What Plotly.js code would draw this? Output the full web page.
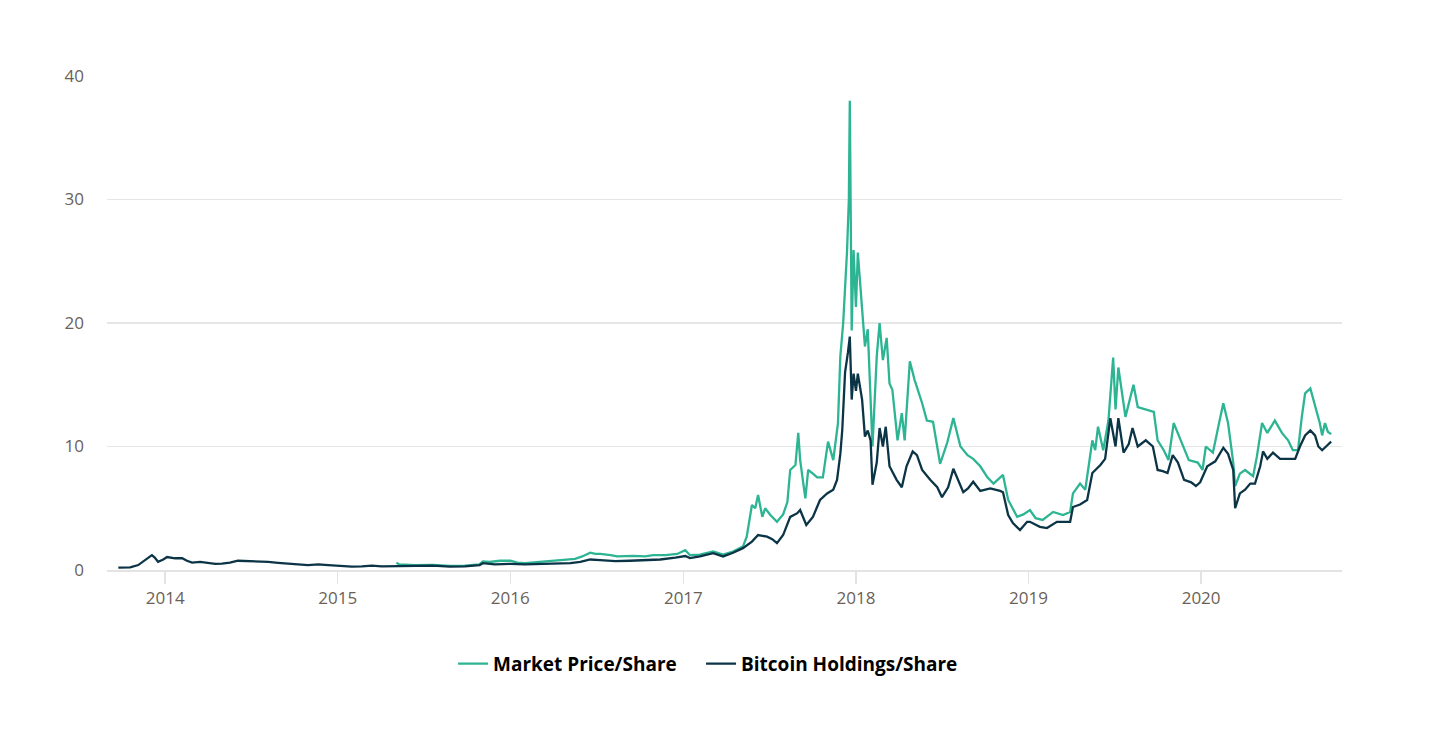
<!DOCTYPE html>
<html>
<head>
<meta charset="utf-8">
<script src="https://cdn.plot.ly/plotly-3.0.1.min.js"></script>
<style>html,body{margin:0;padding:0;background:#fff;}#chart{width:1431px;height:742px;}</style>
</head>
<body>
<div id="chart"></div>
<script>
// Bitcoin Holdings/Share
const holdDates = [
"2013-09-24","2013-10-19","2013-11-05","2013-11-20","2013-12-04","2013-12-10","2013-12-17","2013-12-28",
"2014-01-05","2014-01-22","2014-02-06","2014-02-16","2014-02-27","2014-03-16","2014-03-31","2014-04-17",
"2014-05-01","2014-05-18","2014-06-04","2014-06-26","2014-07-17","2014-08-07","2014-08-28","2014-09-18",
"2014-10-09","2014-10-30","2014-11-21","2014-12-12","2015-01-01","2015-01-16","2015-01-31","2015-02-21",
"2015-03-14","2015-04-04","2015-04-25","2015-05-16","2015-06-13","2015-07-21","2015-08-26","2015-09-27",
"2015-10-28","2015-11-04","2015-11-29","2016-01-01","2016-02-01","2016-03-04","2016-04-05","2016-05-07",
"2016-05-28","2016-06-18","2016-07-09","2016-08-10","2016-09-10","2016-10-12","2016-11-13","2016-12-15",
"2017-01-05","2017-01-15","2017-02-05","2017-03-05","2017-03-26","2017-04-16","2017-05-07","2017-05-26",
"2017-06-08","2017-06-27","2017-07-08","2017-07-18","2017-07-31","2017-08-15","2017-08-30","2017-09-05",
"2017-09-18","2017-10-02","2017-10-17","2017-11-01","2017-11-14","2017-11-22","2017-11-29","2017-12-03",
"2017-12-09","2017-12-15","2017-12-19","2017-12-23","2017-12-27","2018-01-01","2018-01-05","2018-01-14",
"2018-01-20","2018-01-26","2018-02-01","2018-02-05","2018-02-14","2018-02-20","2018-02-27","2018-03-05",
"2018-03-13","2018-03-28","2018-04-08","2018-04-18","2018-05-01","2018-05-10","2018-05-21","2018-06-07",
"2018-06-22","2018-07-02","2018-07-15","2018-07-26","2018-08-05","2018-08-16","2018-08-26","2018-09-06",
"2018-09-21","2018-10-12","2018-11-02","2018-11-08","2018-11-19","2018-11-29","2018-12-14","2018-12-29",
"2019-01-04","2019-01-25","2019-02-09","2019-03-02","2019-03-19","2019-03-30","2019-04-05","2019-04-20",
"2019-05-05","2019-05-16","2019-06-02","2019-06-12","2019-06-23","2019-07-04","2019-07-10","2019-07-21",
"2019-08-01","2019-08-09","2019-08-20","2019-09-06","2019-09-21","2019-10-01","2019-10-12","2019-10-22",
"2019-11-02","2019-11-13","2019-11-26","2019-12-11","2019-12-21","2019-12-30","2020-01-14","2020-01-31",
"2020-02-17","2020-02-27","2020-03-09","2020-03-13","2020-03-23","2020-04-03","2020-04-14","2020-04-24",
"2020-05-05","2020-05-11","2020-05-20","2020-06-01","2020-06-16","2020-07-01","2020-07-18","2020-07-28",
"2020-08-08","2020-08-19","2020-08-29","2020-09-05","2020-09-13","2020-09-24","2020-10-02"
];
const holdVals = [
0.19,0.22,0.4,0.8,1.2,1.0,0.67,0.85,
1.05,0.95,0.95,0.75,0.6,0.65,0.55,0.49,
0.52,0.6,0.75,0.72,0.72,0.65,0.58,0.49,
0.45,0.4,0.45,0.4,0.35,0.27,0.27,0.3,
0.35,0.3,0.3,0.32,0.33,0.36,0.27,0.3,
0.4,0.55,0.45,0.5,0.45,0.5,0.52,0.55,
0.65,0.85,0.8,0.72,0.75,0.8,0.85,1.0,
1.13,0.97,1.1,1.36,1.1,1.4,1.77,2.3,
2.83,2.7,2.5,2.18,2.83,4.3,4.6,4.86,
3.64,4.3,5.67,6.2,6.5,7.3,9.4,11.3,
16.0,17.6,18.9,13.8,15.9,14.5,15.9,13.8,
10.8,11.3,10.5,6.9,8.7,11.5,10.0,11.6,
8.4,7.3,6.7,8.4,9.6,9.3,8.1,7.3,
6.7,5.9,6.7,8.2,7.3,6.3,6.6,7.15,
6.4,6.6,6.4,6.3,4.45,3.8,3.24,3.9,
3.9,3.5,3.4,3.9,3.9,3.9,5.1,5.3,
5.67,7.85,8.5,9.0,12.3,10.0,12.3,9.5,
10.2,11.5,10.0,10.5,10.0,8.1,8.0,7.85,
9.3,8.7,7.3,7.1,6.8,7.1,8.4,8.8,
9.9,9.4,8.1,5.0,6.2,6.5,7.0,7.0,
8.4,9.6,9.0,9.5,9.0,9.0,9.0,10.0,
10.9,11.3,10.9,10.0,9.7,10.1,10.4
];

// Market Price/Share
const mktDates = [
"2015-05-05","2015-05-11","2015-06-13","2015-07-21","2015-08-26","2015-09-27","2015-10-28","2015-11-04",
"2015-11-18","2015-12-10","2016-01-01","2016-01-16","2016-02-01","2016-02-18","2016-03-14","2016-04-05",
"2016-04-30","2016-05-17","2016-06-01","2016-06-18","2016-06-29","2016-07-09","2016-07-31","2016-08-14",
"2016-09-17","2016-10-12","2016-10-29","2016-11-24","2016-12-19","2017-01-05","2017-01-15","2017-02-05",
"2017-03-05","2017-03-26","2017-04-16","2017-05-07","2017-05-15","2017-05-26","2017-06-02","2017-06-08",
"2017-06-17","2017-06-23","2017-07-04","2017-07-18","2017-07-31","2017-08-09","2017-08-15","2017-08-26",
"2017-09-01","2017-09-05","2017-09-16","2017-09-22","2017-10-02","2017-10-11","2017-10-23","2017-11-03",
"2017-11-14","2017-11-20","2017-11-24","2017-11-29","2017-12-05","2017-12-13","2017-12-17","2017-12-19",
"2017-12-23","2017-12-27","2018-01-01","2018-01-05","2018-01-14","2018-01-20","2018-01-26","2018-02-03",
"2018-02-05","2018-02-14","2018-02-20","2018-02-27","2018-03-07","2018-03-13","2018-03-19","2018-03-30",
"2018-04-08","2018-04-14","2018-04-25","2018-05-05","2018-05-21","2018-05-31","2018-06-13","2018-06-28",
"2018-07-13","2018-07-26","2018-08-10","2018-08-25","2018-09-06","2018-09-21","2018-10-06","2018-10-19",
"2018-11-08","2018-11-19","2018-12-08","2018-12-21","2019-01-04","2019-01-16","2019-01-31","2019-02-22",
"2019-03-15","2019-03-30","2019-04-05","2019-04-20","2019-05-01","2019-05-16","2019-05-22","2019-05-28",
"2019-06-08","2019-06-19","2019-06-29","2019-07-04","2019-07-10","2019-07-25","2019-08-11","2019-08-20",
"2019-09-06","2019-09-23","2019-10-01","2019-10-14","2019-10-24","2019-11-04","2019-11-19","2019-12-06",
"2019-12-25","2020-01-04","2020-01-11","2020-01-26","2020-02-08","2020-02-17","2020-02-27","2020-03-09",
"2020-03-13","2020-03-23","2020-04-03","2020-04-20","2020-04-28","2020-05-09","2020-05-20","2020-06-05",
"2020-06-20","2020-07-03","2020-07-13","2020-07-24","2020-08-01","2020-08-08","2020-08-19","2020-08-29",
"2020-09-08","2020-09-13","2020-09-19","2020-09-25","2020-10-02"
];
const mktVals = [
0.6,0.45,0.4,0.42,0.33,0.35,0.45,0.7,
0.65,0.75,0.75,0.6,0.55,0.6,0.68,0.72,
0.8,0.9,1.1,1.4,1.3,1.3,1.2,1.1,
1.15,1.1,1.2,1.2,1.3,1.6,1.2,1.25,
1.5,1.25,1.5,1.9,2.7,5.26,5.0,6.07,
4.3,5.0,4.45,3.9,4.5,5.5,8.1,8.5,
11.1,8.9,5.8,8.1,7.8,7.5,7.5,10.4,
8.9,11.0,11.9,17.3,20.0,25.7,30.0,38.0,
19.4,25.9,21.3,25.7,21.3,18.1,19.5,12.7,
10.0,17.3,20.0,17.0,18.8,15.1,14.6,10.5,
12.7,10.5,16.9,15.4,13.5,12.1,12.0,8.6,
10.3,12.3,10.0,9.3,9.0,8.4,7.5,7.0,
7.7,5.67,4.3,4.5,4.86,4.2,4.05,4.7,
4.45,4.7,6.2,7.0,6.5,10.5,9.7,11.6,
9.7,12.1,17.2,13.0,16.4,12.4,15.0,13.2,
13.0,12.8,10.5,9.7,8.9,11.9,10.5,8.9,
8.7,8.1,10.0,9.5,11.9,13.5,11.9,8.7,
6.8,7.8,8.1,7.6,9.2,11.9,11.1,12.1,
11.1,10.5,9.7,9.7,12.4,14.3,14.7,13.3,
11.9,10.9,11.9,11.2,11.0
];

const yTicks = [0, 10, 20, 30, 40];

const GREEN = '#2db493';
const DARK = '#0b3446';

const traces = [
  {x: mktDates, y: mktVals, type: 'scatter', mode: 'lines', name: 'Market Price/Share',
   line: {color: GREEN, width: 2.3}, legend: 'legend'},
  {x: holdDates, y: holdVals, type: 'scatter', mode: 'lines', name: 'Bitcoin Holdings/Share',
   line: {color: DARK, width: 2.3}, legend: 'legend2'}
];

const legendFont = {family: 'Open Sans, sans-serif', size: 19, color: '#000', weight: 700};

const layout = {
  width: 1431, height: 742,
  margin: {l: 107, r: 89, t: 76, b: 172},
  paper_bgcolor: '#ffffff', plot_bgcolor: '#ffffff',
  hovermode: false,
  showlegend: true,
  legend: {orientation: 'h', x: 0.2802, xanchor: 'left', y: -0.19, yanchor: 'middle',
           font: legendFont, itemwidth: 30},
  legend2: {orientation: 'h', x: 0.481, xanchor: 'left', y: -0.19, yanchor: 'middle',
           font: legendFont, itemwidth: 30},
  xaxis: {type: 'date', range: ['2013-08-31', '2020-10-25'],
          tick0: '2014-01-01', dtick: 'M12', tickformat: '%Y',
          showgrid: false, showline: true, linecolor: '#e3e3e3', linewidth: 2,
          ticks: 'outside', ticklen: 12, tickwidth: 1.5, tickcolor: '#e3e3e3',
          tickfont: {family: 'Open Sans, sans-serif', size: 17, color: '#6b5f57'},
          zeroline: false, fixedrange: true},
  yaxis: {range: [0, 40], tickvals: yTicks, ticktext: yTicks.map(String),
          showgrid: true, gridcolor: '#e6e6e6', gridwidth: 1.5,
          zeroline: false, showline: false, ticks: '', ticklabelstandoff: 22,
          tickfont: {family: 'Open Sans, sans-serif', size: 17, color: '#6b5f57'},
          fixedrange: true}
};

Plotly.newPlot('chart', traces, layout, {displayModeBar: false, staticPlot: true});
</script>
</body>
</html>
